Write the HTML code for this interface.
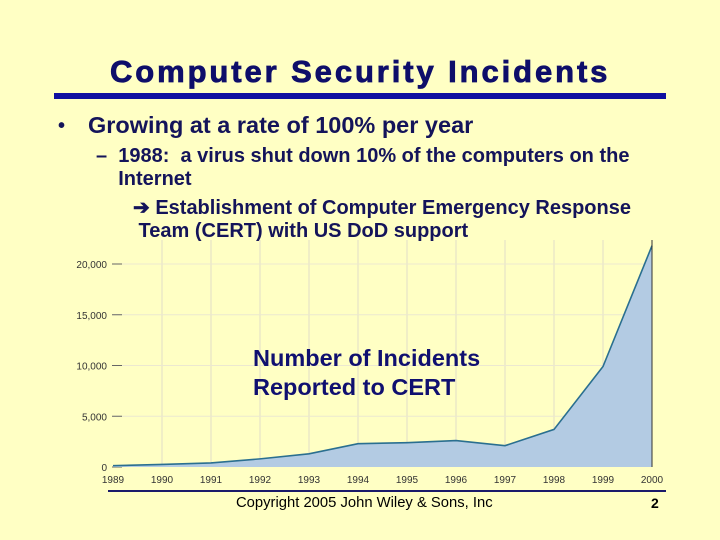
<!DOCTYPE html>
<html><head><meta charset="utf-8"><style>
body{margin:0;width:720px;height:540px;background:#ffffc4;overflow:hidden;position:relative;font-family:"Liberation Sans",sans-serif;color:#14145a}
.t{position:absolute;white-space:nowrap;font-weight:bold}
</style></head><body>
<div class="t" style="left:110px;top:54px;font-size:31px;letter-spacing:2.9px;color:#0e0e6a;-webkit-text-stroke:0.8px #0e0e6a">Computer Security Incidents</div>
<div style="position:absolute;left:54px;top:93px;width:612px;height:6px;background:#1010a0"></div>
<div class="t" style="left:58px;top:115px;font-size:20px">•</div>
<div class="t" style="left:88px;top:112px;font-size:23.5px">Growing at a rate of 100% per year</div>
<div class="t" style="left:96px;top:145px;font-size:20px;line-height:23px">–&nbsp; 1988:&nbsp; a virus shut down 10% of the computers on the<br>&nbsp;&nbsp;&nbsp;&nbsp;Internet</div>
<div class="t" style="left:133px;top:197px;font-size:20px;line-height:23px">➔ Establishment of Computer Emergency Response<br>&nbsp;Team (CERT) with US DoD support</div>
<svg id="chart" width="720" height="540" style="position:absolute;left:0;top:0"></svg>
<div class="t" style="left:253px;top:344px;font-size:23.5px;line-height:29px;color:#101070">Number of Incidents<br>Reported to CERT</div>
<div style="position:absolute;left:108px;top:490px;width:558px;height:2px;background:#1a1a6a"></div>
<div class="t" style="left:236px;top:495px;font-size:14.8px;font-weight:normal;color:#000">Copyright 2005 John Wiley &amp; Sons, Inc</div>
<div class="t" style="left:651px;top:495px;font-size:14px;color:#000">2</div>
<script>
const years=[1989,1990,1991,1992,1993,1994,1995,1996,1997,1998,1999,2000];
const incidents=[130,250,400,800,1300,2300,2400,2600,2100,3700,9900,21800];
const yTicks=[0,5000,10000,15000,20000];
const yTickLabels=["0","5,000","10,000","15,000","20,000"];
const svg=document.getElementById('chart');
const NS="http://www.w3.org/2000/svg";
const x=v=>113+(v-1989)*(652-113)/11;
const y=v=>467-v*(467-264)/20000;
function mk(t,a){const e=document.createElementNS(NS,t);for(const k in a)e.setAttribute(k,a[k]);svg.appendChild(e);return e;}
years.forEach(yr=>{if(yr>1989){const g=mk('line',{x1:x(yr),x2:x(yr),y1:240,y2:467,stroke:'#e0dcc8','stroke-width':1});

}
const t=mk('text',{x:x(yr),y:483,'font-size':10,'text-anchor':'middle',fill:'#333','font-family':'Liberation Sans, sans-serif'});t.textContent=yr;

});
yTicks.forEach((v,i)=>{if(v>0){const g=mk('line',{x1:113,x2:652,y1:y(v),y2:y(v),stroke:'#ece8d0','stroke-width':1});

}
const tk=mk('line',{x1:112,x2:122,y1:y(v),y2:y(v),stroke:'#666','stroke-width':1});


const t=mk('text',{x:107,y:y(v)+4,'font-size':10,'text-anchor':'end',fill:'#333','font-family':'Liberation Sans, sans-serif'});t.textContent=yTickLabels[i];

});
let pts=years.map((yr,i)=>x(yr)+','+y(incidents[i])).join(' ');
const area=mk('polygon',{points:x(1989)+','+y(0)+' '+pts+' '+x(2000)+','+y(0),fill:'#b3cbe3'});


const line=mk('polyline',{points:pts,fill:'none',stroke:'#2a6f90','stroke-width':1.6});


const ax=mk('line',{x1:652,x2:652,y1:240,y2:467,stroke:'#333','stroke-width':1});


</script>
</body></html>
